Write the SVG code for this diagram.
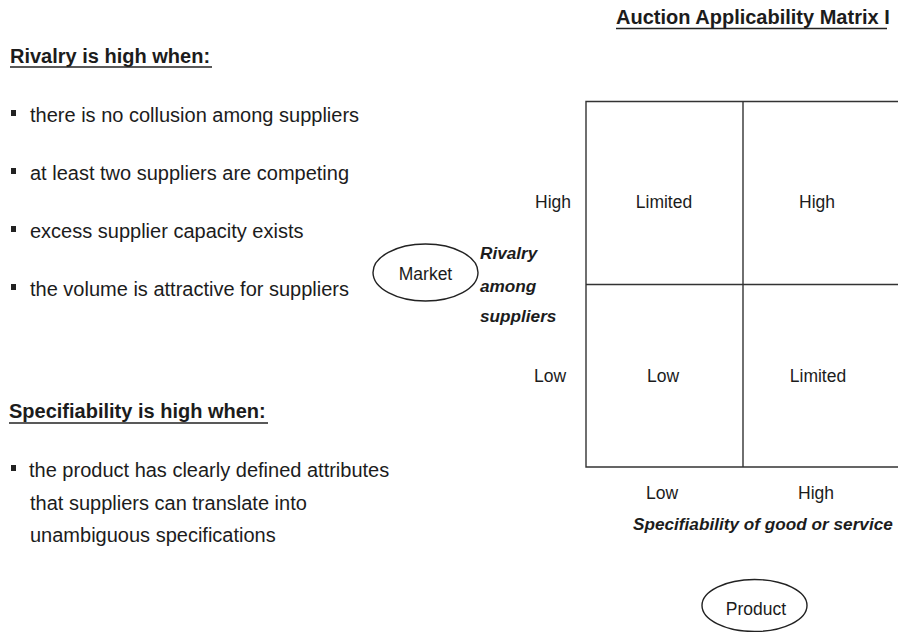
<svg xmlns="http://www.w3.org/2000/svg" width="898" height="632" viewBox="0 0 898 632">
  <style>
    text { font-family: "Liberation Sans", Arial, sans-serif; fill: #1c1c1c; }
    .h { font-size: 20px; font-weight: bold; }
    .b { font-size: 20px; }
    .m { font-size: 17.5px; }
    .ax { font-size: 17.2px; font-weight: bold; font-style: italic; }
    .ul { stroke: #222; stroke-width: 1.6; }
    .grid { stroke: #333; stroke-width: 1.4; fill: none; }
    .ell { stroke: #222; stroke-width: 1.4; fill: none; }
    .bul { fill: #222; }
  </style>

  <g id="title">
    <text class="h" x="616" y="23.5">Auction Applicability Matrix I</text>
    <line class="ul" x1="616" y1="28.5" x2="887" y2="28.5"/>
  </g>

  <g id="rivalry-list">
    <text class="h" x="10" y="62.5">Rivalry is high when:</text>
    <line class="ul" x1="10" y1="67" x2="212" y2="67"/>
    <rect class="bul" x="11" y="110" width="5" height="6"/>
    <text class="b" x="30" y="122">there is no collusion among suppliers</text>
    <rect class="bul" x="11" y="168" width="5" height="6"/>
    <text class="b" x="30" y="180">at least two suppliers are competing</text>
    <rect class="bul" x="11" y="226" width="5" height="6"/>
    <text class="b" x="30" y="238">excess supplier capacity exists</text>
    <rect class="bul" x="11" y="284" width="5" height="6"/>
    <text class="b" x="30" y="296">the volume is attractive for suppliers</text>
  </g>

  <g id="specifiability-list">
    <text class="h" x="9" y="418">Specifiability is high when:</text>
    <line class="ul" x1="9" y1="423" x2="268" y2="423"/>
    <rect class="bul" x="11" y="465" width="5" height="6"/>
    <text class="b" x="29" y="476.5">the product has clearly defined attributes</text>
    <text class="b" x="30" y="509.5">that suppliers can translate into</text>
    <text class="b" x="30" y="542">unambiguous specifications</text>
  </g>

  <g id="matrix-lines">
    <path class="grid" d="M905 101.5 H586 V467 H905"/>
    <line class="grid" x1="743" y1="101.5" x2="743" y2="467"/>
    <line class="grid" x1="586" y1="284.5" x2="905" y2="284.5"/>
  </g>

  <g id="cell-high-low">
    <text class="m" x="664" y="208" text-anchor="middle">Limited</text>
  </g>
  <g id="cell-high-high">
    <text class="m" x="817" y="208" text-anchor="middle">High</text>
  </g>
  <g id="cell-low-low">
    <text class="m" x="663" y="381.5" text-anchor="middle">Low</text>
  </g>
  <g id="cell-low-high">
    <text class="m" x="818" y="381.5" text-anchor="middle">Limited</text>
  </g>

  <g id="y-axis-labels">
    <text class="m" x="535" y="208">High</text>
    <text class="m" x="534" y="381.5">Low</text>
    <text class="ax" x="480" y="259">Rivalry</text>
    <text class="ax" x="480" y="292">among</text>
    <text class="ax" x="480" y="322">suppliers</text>
  </g>

  <g id="x-axis-labels">
    <text class="m" x="662" y="498.5" text-anchor="middle">Low</text>
    <text class="m" x="816" y="498.5" text-anchor="middle">High</text>
    <text class="ax" x="633" y="530">Specifiability of good or service</text>
  </g>

  <g id="market">
    <ellipse class="ell" cx="425.5" cy="272.5" rx="52.5" ry="28.5"/>
    <text class="m" x="425.5" y="280" text-anchor="middle">Market</text>
  </g>

  <g id="product">
    <ellipse class="ell" cx="754.5" cy="605.5" rx="52.5" ry="26"/>
    <text class="m" x="756" y="615" text-anchor="middle">Product</text>
  </g>

  <g id="connectors"/>
</svg>
